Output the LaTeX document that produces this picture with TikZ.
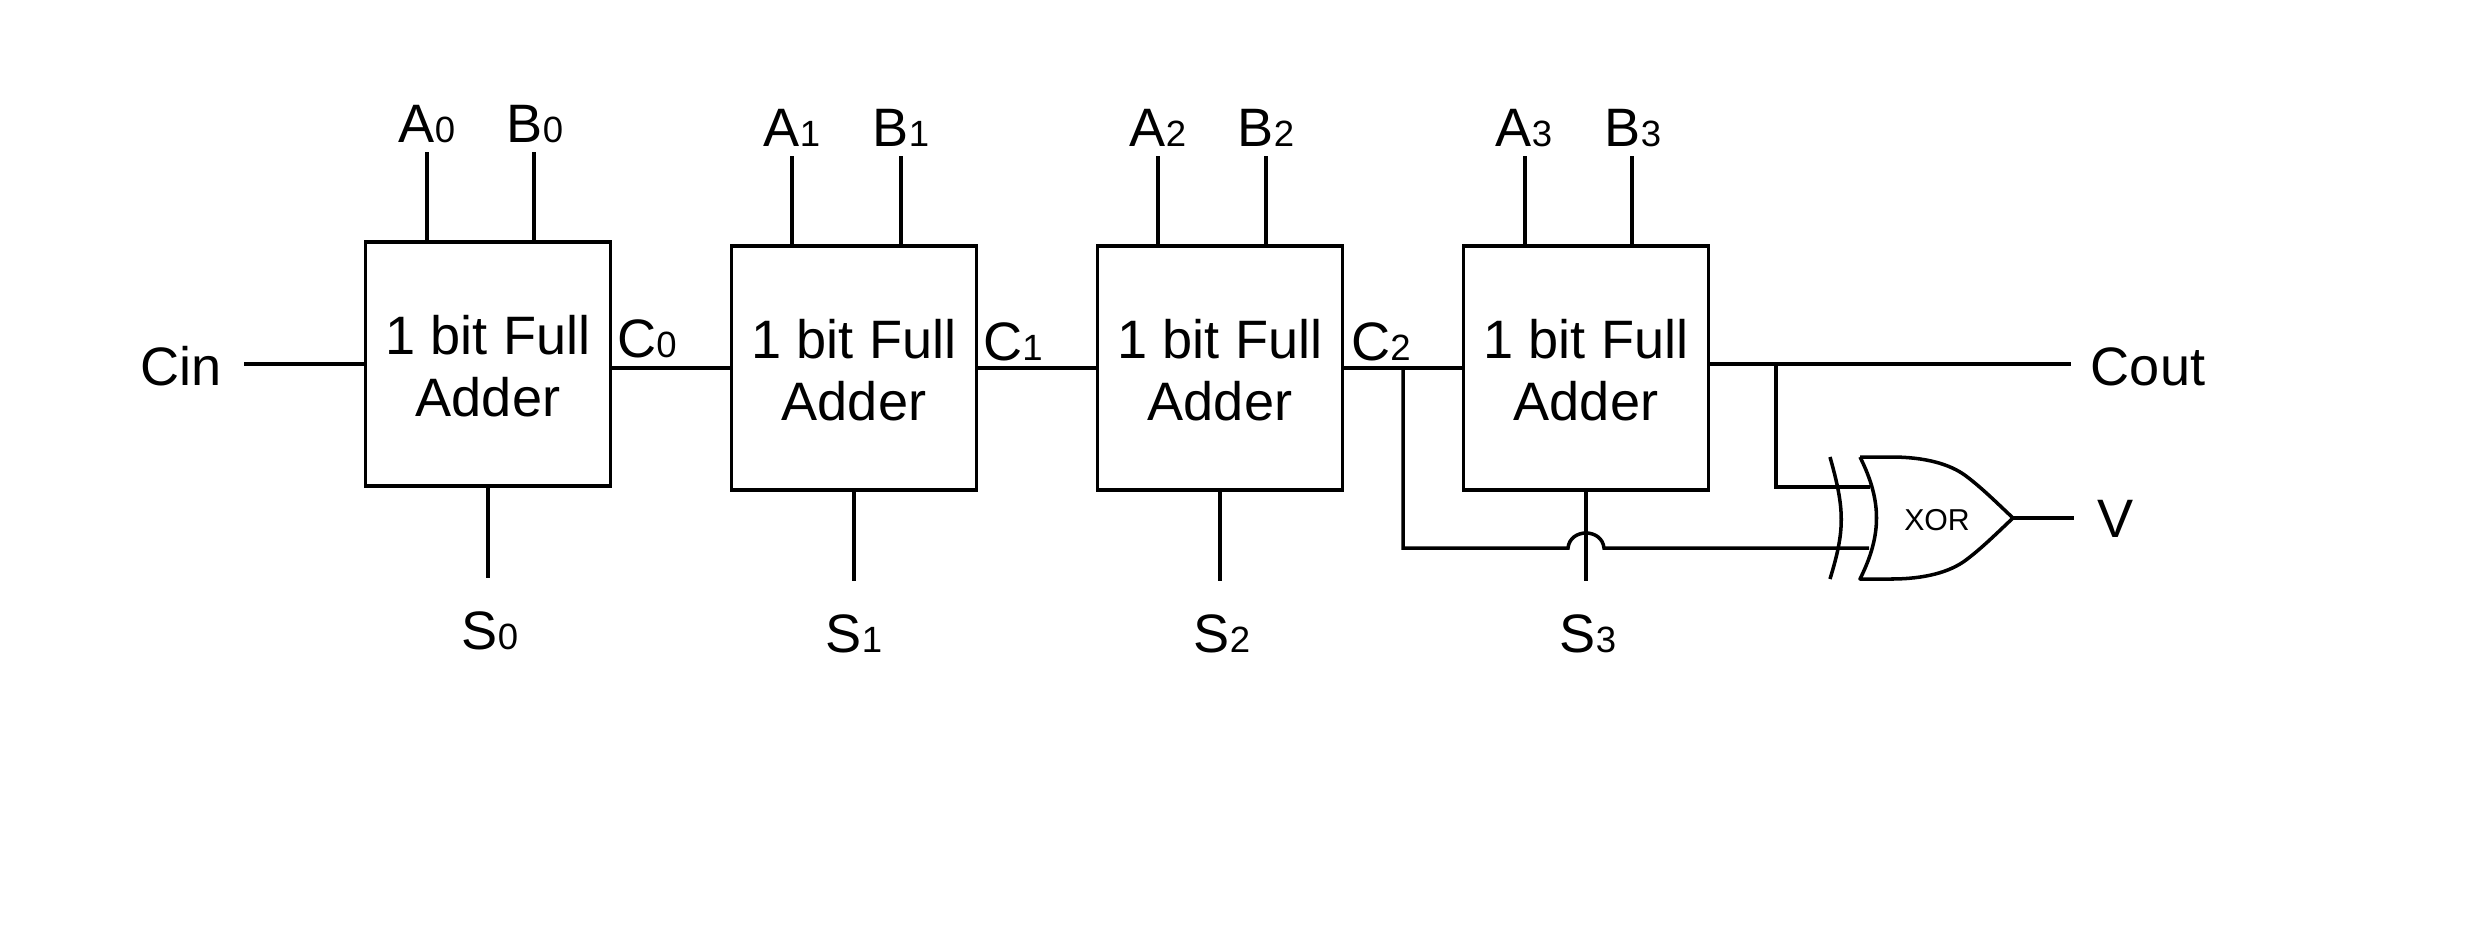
\documentclass[tikz,border=0pt]{standalone}
\usepackage{fontspec}
\setmainfont{Liberation Sans}
\usetikzlibrary{positioning,calc}
\newcommand{\sig}[2]{#1{\fontsize{10.4}{10}\selectfont #2}}

\begin{document}
\begin{tikzpicture}[
  x=0.1mm, y=-0.1mm,
  add/.style={draw, line width=1pt, align=center, inner sep=0pt, outer sep=0pt,
            minimum width=24.5mm, minimum height=24.4mm, text height=30pt,
            font=\fontsize{15.4}{17.6}\selectfont},
  lbl/.style={font=\fontsize{15.4}{17}\selectfont, inner sep=0pt, anchor=base},
  e/.style={line width=1pt}]

\useasboundingbox (0,0) rectangle (2470,928);

% adders, 366 apart
\node[add] (add0) at (488,364) {1 bit Full\\Adder};
\node[add] (add1) at (854,368) {1 bit Full\\Adder};
\node[add] (add2) at (1220,368) {1 bit Full\\Adder};
\node[add] (add3) at (1586,368) {1 bit Full\\Adder};

% inputs above the adders
\node[lbl] (a0) at (427,142) {\sig{A}{0}};
\node[lbl] (b0) at (535,142) {\sig{B}{0}};
\node[lbl] (a1) at (792,146) {\sig{A}{1}};
\node[lbl] (b1) at (901,146) {\sig{B}{1}};
\node[lbl] (a2) at (1158,146) {\sig{A}{2}};
\node[lbl] (b2) at (1266,146) {\sig{B}{2}};
\node[lbl] (a3) at (1524,146) {\sig{A}{3}};
\node[lbl] (b3) at (1633,146) {\sig{B}{3}};

\coordinate (a0w) at (427,152);
\coordinate (b0w) at (534,152);
\coordinate (a1w) at (792,156);
\coordinate (b1w) at (901,156);
\coordinate (a2w) at (1158,156);
\coordinate (b2w) at (1266,156);
\coordinate (a3w) at (1525,156);
\coordinate (b3w) at (1632,156);

\draw[e] (a0w) -- (a0w |- add0.north);
\draw[e] (b0w) -- (b0w |- add0.north);
\draw[e] (a1w) -- (a1w |- add1.north);
\draw[e] (b1w) -- (b1w |- add1.north);
\draw[e] (a2w) -- (a2w |- add2.north);
\draw[e] (b2w) -- (b2w |- add2.north);
\draw[e] (a3w) -- (a3w |- add3.north);
\draw[e] (b3w) -- (b3w |- add3.north);

% sums below
\node[lbl] (s0) at (490,649) {\sig{S}{0}};
\node[lbl] (s1) at (854,652) {\sig{S}{1}};
\node[lbl] (s2) at (1222,652) {\sig{S}{2}};
\node[lbl] (s3) at (1588,652) {\sig{S}{3}};

\coordinate (s0w) at (488,578);
\coordinate (s1w) at (854,581);
\coordinate (s2w) at (1220,581);
\coordinate (s3w) at (1586,581);

\draw[e] (add0.south) -- (s0w);
\draw[e] (add1.south) -- (s1w);
\draw[e] (add2.south) -- (s2w);
\draw[e] (add3.south) -- (s3w);

% carry chain
\node[lbl] (cin) at (181,385) {Cin};
\node[lbl] (c0) at (647,357) {\sig{C}{0}};
\node[lbl] (c1) at (1013,360) {\sig{C}{1}};
\node[lbl] (c2) at (1381,360) {\sig{C}{2}};
\node[lbl] (cout) at (2148,385) {Cout};

\coordinate (cinw) at (244,364);
\coordinate (coutw) at (2071,364);

\draw[e] (cinw) -- (add0.west);
\draw[e] (add0.east |- add1.west) -- (add1.west);
\draw[e] (add1.east) -- (add2.west);
\draw[e] (add2.east) -- (add3.west);
\draw[e] (add3.east |- coutw) -- (coutw);

% --------------------------------- overflow gate ---
\node[inner sep=0pt, font=\fontsize{8.6}{10}\selectfont] (xor) at (1937,520) {XOR};
\node[lbl] (v) at (2116,537) {V};

\coordinate (tip) at (2013,518);
\coordinate (vw) at (2074,518);
\coordinate (in1) at (1870,487);
\coordinate (in2) at (1869,548);
\coordinate (cbr) at (1776,364);
\coordinate (c2br) at (1403,368);
\coordinate (hopl) at (1568,548);
\coordinate (hopr) at (1604,548);

\draw[e, line join=round] (1860,457) -- (1891,457)
  .. controls (1925,457) and (1950,464) .. (1966,476)
  .. controls (1982,488) and (1997,503) .. (tip)
  .. controls (1997,533) and (1982,548) .. (1966,560)
  .. controls (1950,572) and (1925,579) .. (1891,579)
  -- (1860,579)
  .. controls (1882,535) and (1882,501) .. (1860,457);
\draw[e] (1830,457) .. controls (1845,510) and (1845,530) .. (1830,579);

\draw[e] (tip) -- (vw);
\draw[e] (cbr) -- (cbr |- in1) -- (in1);
\draw[e] (c2br) -- (c2br |- in2) -- (hopl)
  .. controls (1570,528) and (1602,528) .. (hopr) -- (in2);

\end{tikzpicture}
\end{document}
